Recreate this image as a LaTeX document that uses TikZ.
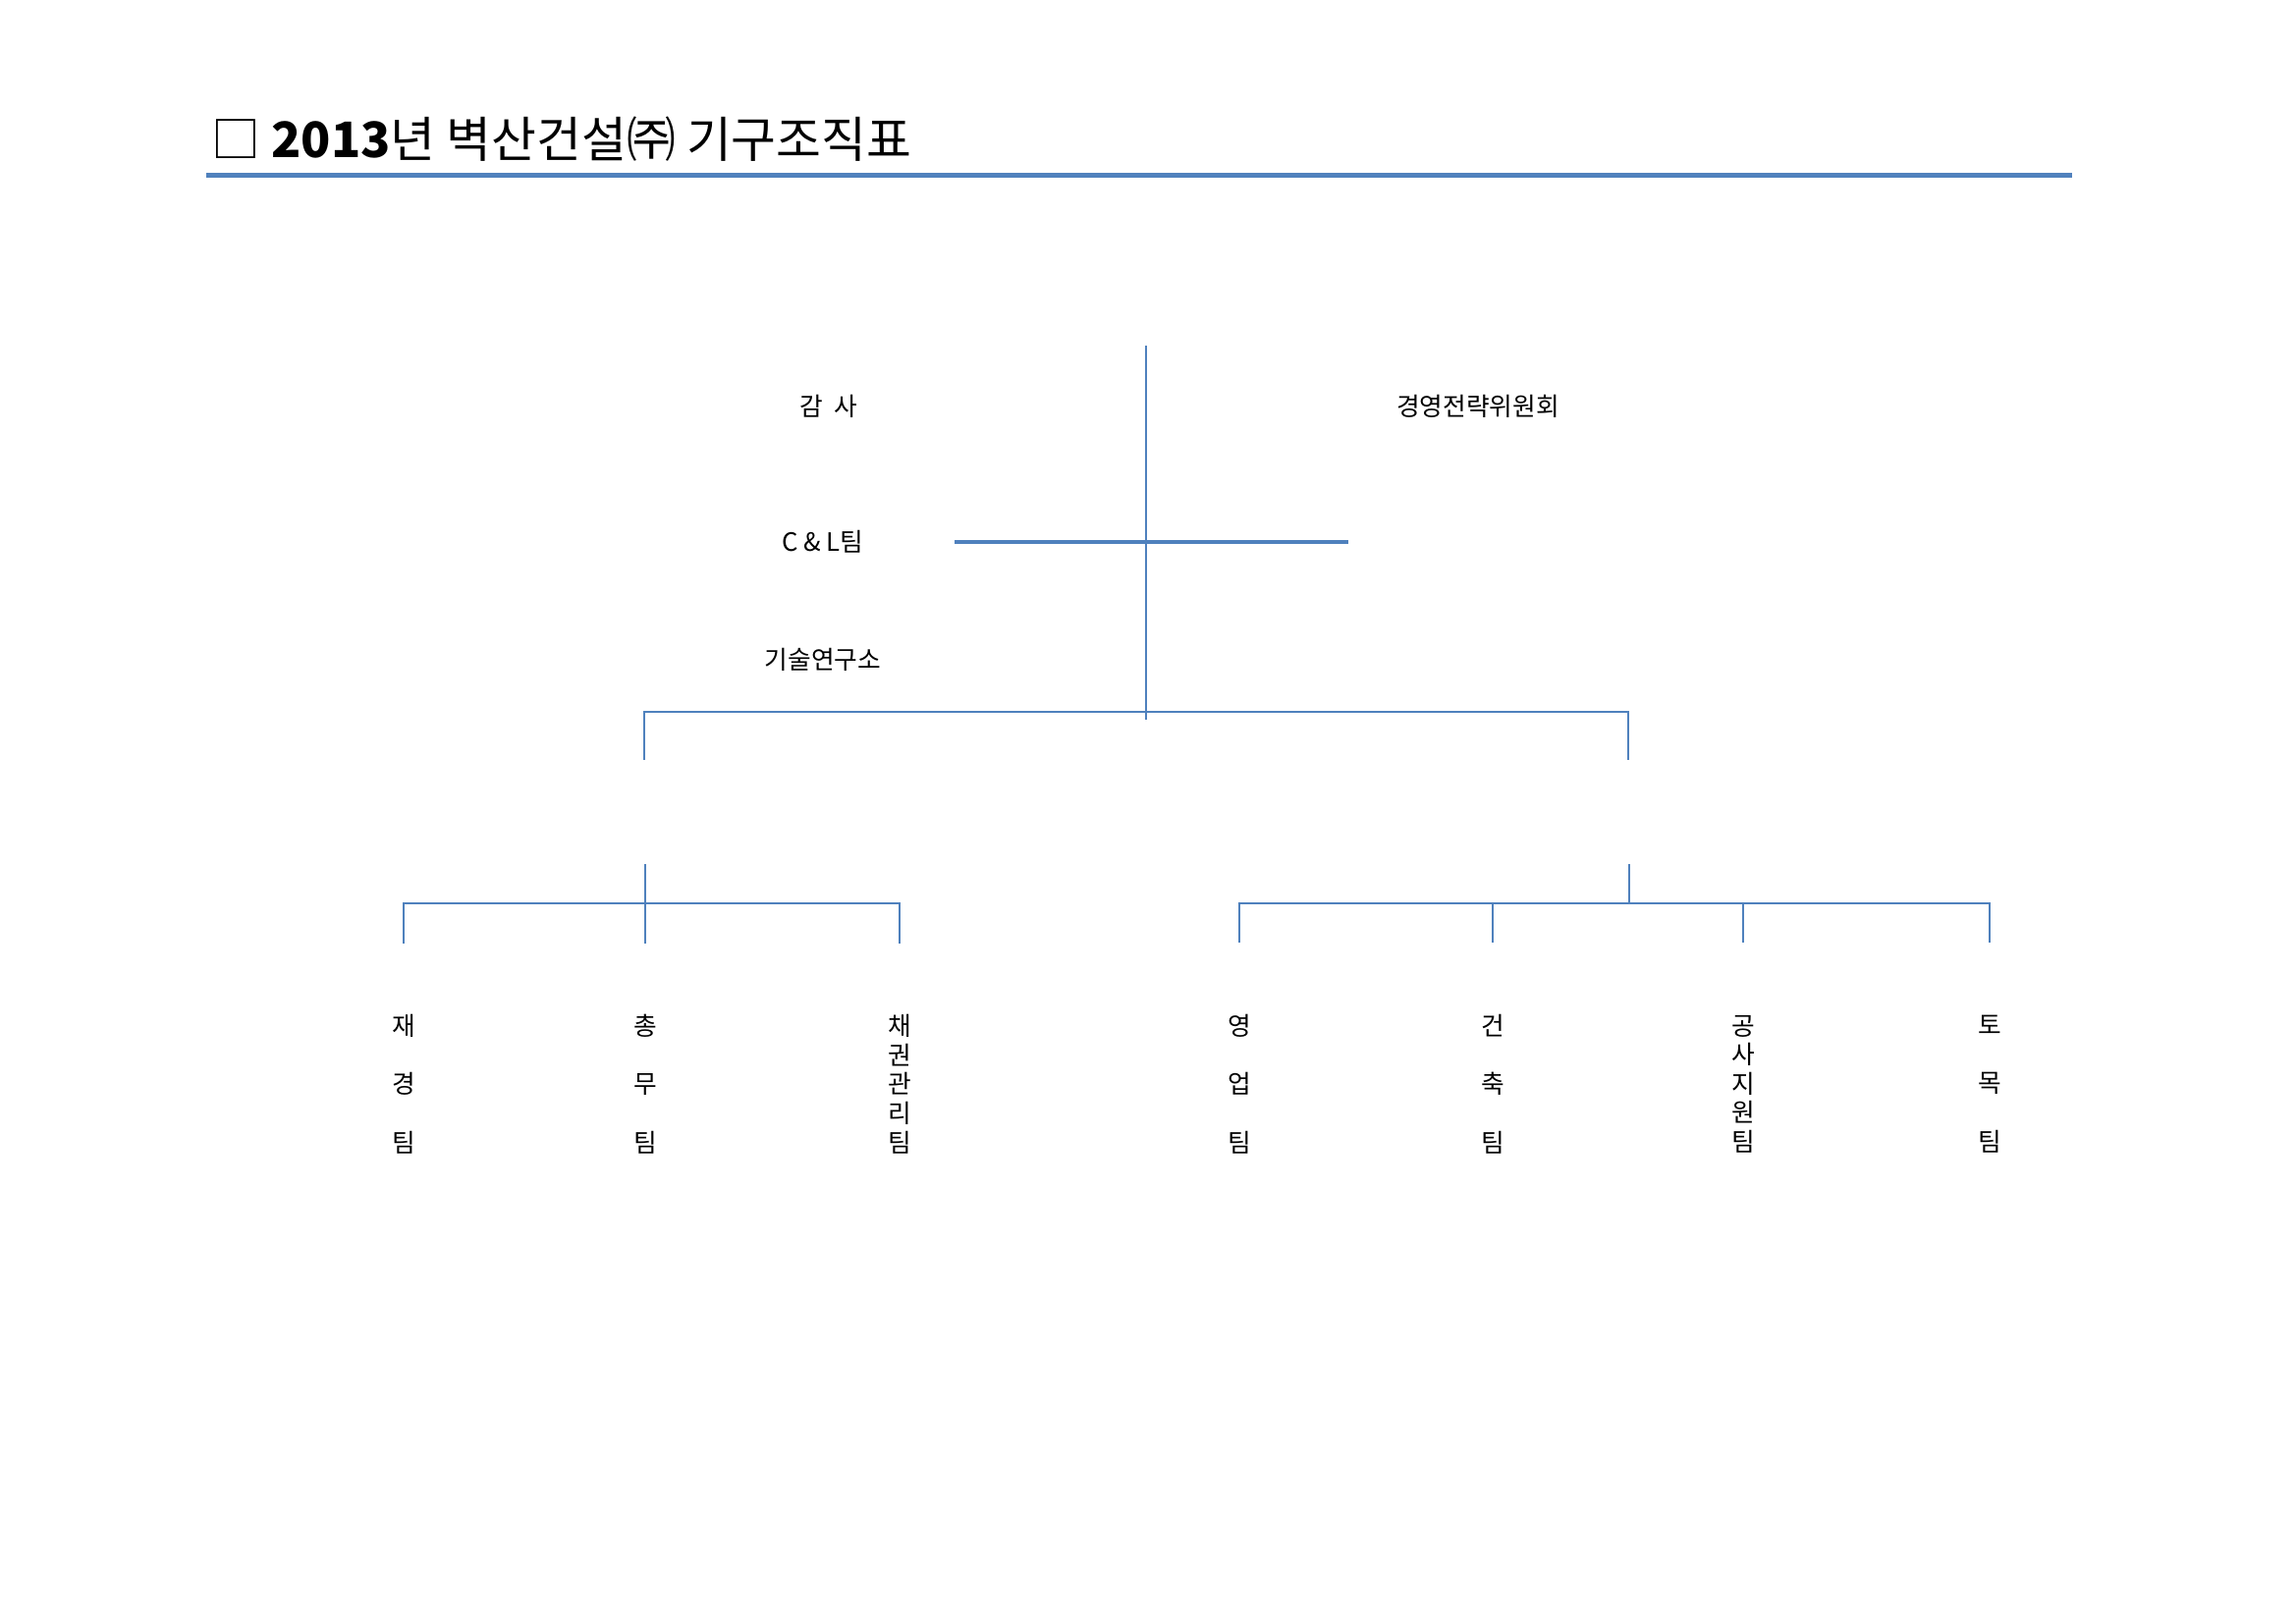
\documentclass[tikz,border=0pt]{standalone}
\usepackage{fontspec}
\setmainfont{Noto Sans CJK KR}
\usetikzlibrary{positioning}
\definecolor{orgblue}{RGB}{79,129,189}

\begin{document}
\begin{tikzpicture}[x=0.127mm, y=-0.127mm,
    link/.style={draw=orgblue, line width=0.75pt},
    unit/.style={font=\fontsize{9.3}{10.7}\selectfont, inner sep=0pt, align=center}]
    \useasboundingbox (0, 0) rectangle (2338, 1653);

    % title and rule
    \node[anchor=west, inner sep=0pt, font=\fontsize{18}{21}\selectfont] (title) at (215, 142) {□ \textbf{2013}년 벽산건설㈜ 기구조직표};
    \draw[orgblue, line width=1.8pt] (210, 178.5)--(2110, 178.5);

    % top level
    \node[unit] (audit) at (844, 414) {감\ \ 사};
    \node[unit] (board) at (1505, 414) {경영전략위원회};
    \node[unit] (cl) at (838, 552) {C\ \&\ L팀};
    \node[unit] (lab) at (838, 672) {기술연구소};

    \coordinate (top) at (1167, 352);
    \coordinate (hub) at (1167, 733);
    \coordinate (clw) at (972, 552);
    \coordinate (cle) at (1373, 552);
    \draw[link] (top)--(hub);
    \draw[link, line width=1.1pt] (clw)--(cle);

    % division bar
    \coordinate (barw) at (656, 725);
    \coordinate (bare) at (1658, 725);
    \draw[link] (656, 774)--(barw)--(bare)--(1658, 774);

    % left group
    \coordinate (lstem) at (657, 880);
    \coordinate (ljoin) at (657, 920);
    \draw[link] (lstem)--(657, 961);
    \draw[link] (411, 961)--(411, 920)--(916, 920)--(916, 961);
    \node[unit] (fin) at (411, 1104) {재\\[\baselineskip]경\\[\baselineskip]팀};
    \node[unit] (gen) at (657, 1104) {총\\[\baselineskip]무\\[\baselineskip]팀};
    \node[unit] (debt) at (916, 1104) {채\\권\\관\\리\\팀};

    % right group
    \coordinate (rstem) at (1659, 880);
    \coordinate (rjoin) at (1659, 920);
    \draw[link] (rstem)--(rjoin);
    \draw[link] (1262, 960)--(1262, 920)--(2026, 920)--(2026, 960);
    \foreach \x in {1520, 1775}
        \draw[link] (\x, 920)--(\x, 960);
    \node[unit] (sales) at (1262, 1104) {영\\[\baselineskip]업\\[\baselineskip]팀};
    \node[unit] (arch) at (1520, 1104) {건\\[\baselineskip]축\\[\baselineskip]팀};
    \node[unit] (site) at (1775, 1104) {공\\사\\지\\원\\팀};
    \node[unit] (civil) at (2026, 1104) {토\\[\baselineskip]목\\[\baselineskip]팀};
\end{tikzpicture}
\end{document}
